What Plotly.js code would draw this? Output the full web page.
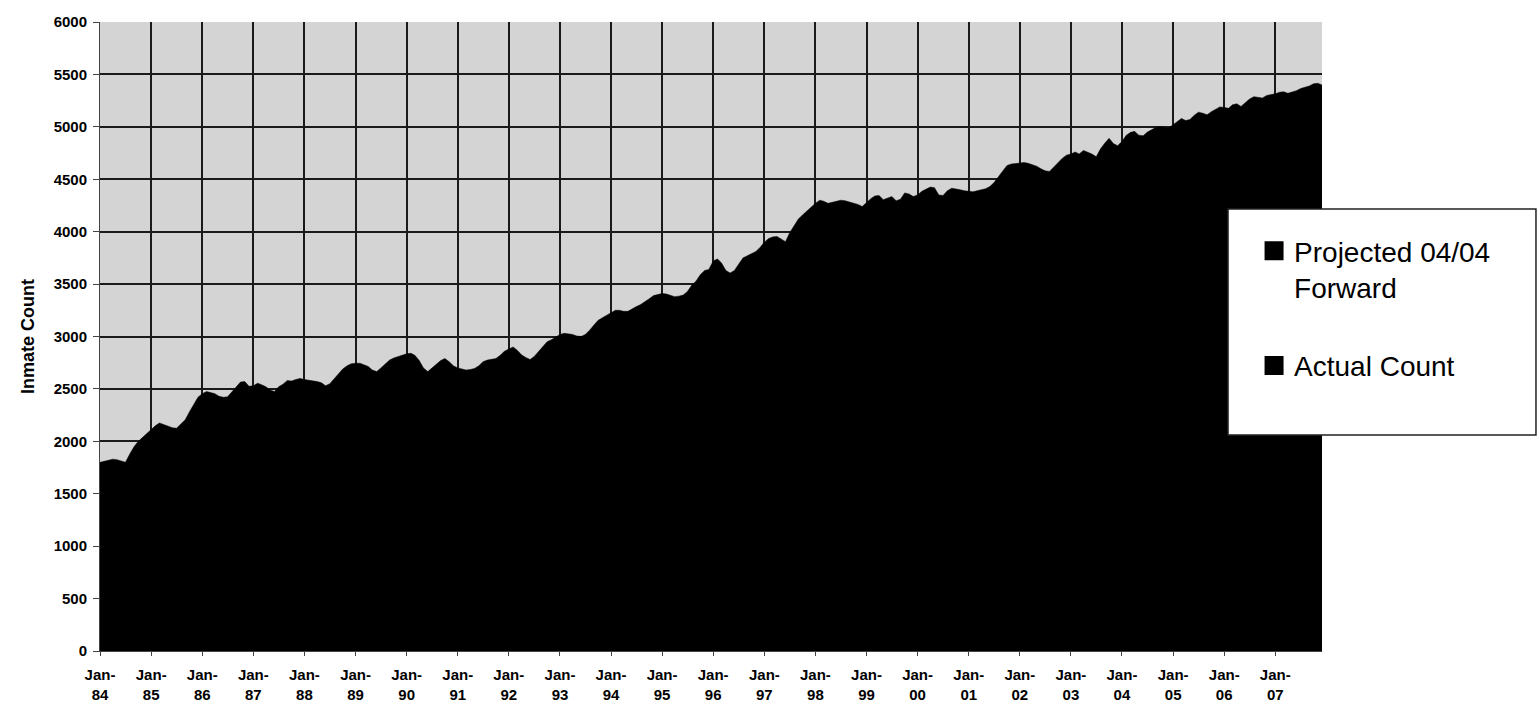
<!DOCTYPE html>
<html><head><meta charset="utf-8">
<script src="https://cdn.plot.ly/plotly-3.0.1.min.js"></script>
<style>html,body{margin:0;padding:0;background:#fff}#chart{width:1538px;height:716px}</style>
</head><body><div id="chart"></div>
<script>
const startYear = 1984;
const yearLabels = ['84','85','86','87','88','89','90','91','92','93','94','95','96','97','98','99','00','01','02','03','04','05','06','07'];
const yTicks = [0,500,1000,1500,2000,2500,3000,3500,4000,4500,5000,5500,6000];
const legendNames = ['Projected 04/04<br>Forward', 'Actual Count'];

// Monthly inmate counts, Jan-84 .. Mar-04
const actualCount = [
 1800,1810,1820,1830,1825,1810,1800,1880,1950,2000,2040,2080,
 2110,2150,2175,2160,2140,2130,2125,2170,2205,2280,2350,2420,
 2455,2475,2465,2455,2430,2420,2425,2470,2520,2565,2570,2525,
 2530,2555,2540,2520,2490,2475,2520,2545,2580,2575,2590,2600,
 2590,2585,2575,2570,2560,2530,2550,2600,2645,2690,2720,2740,
 2745,2745,2730,2715,2680,2665,2700,2740,2775,2795,2810,2825,
 2835,2840,2820,2770,2700,2665,2700,2740,2770,2790,2760,2720,
 2700,2690,2680,2685,2695,2720,2760,2775,2785,2790,2820,2860,
 2880,2900,2870,2825,2800,2780,2810,2860,2900,2950,2970,2995,
 3020,3030,3025,3020,3005,3000,3020,3060,3110,3155,3180,3205,
 3230,3250,3250,3240,3240,3265,3285,3305,3330,3360,3390,3400,
 3410,3405,3395,3380,3385,3395,3430,3490,3530,3590,3630,3640,
 3720,3740,3700,3630,3605,3630,3690,3750,3770,3790,3810,3850,
 3900,3935,3950,3955,3930,3905,3990,4060,4120,4160,4200,4240,
 4270,4300,4290,4270,4280,4295,4300,4295,4285,4275,4260,4240,
 4280,4315,4340,4345,4305,4320,4335,4295,4310,4370,4360,4335,
 4350,4385,4405,4425,4420,4350,4345,4390,4415,4410,4400,4390,
 4385,4380,4390,4398,4410,4430,4470,4525,4580,4630,4645,4652,
 4655,4660,4652,4640,4625,4600,4580,4575,4620,4655,4700,4730,
 4740,4760,4740,4775,4760,4740,4715,4790,4845,4890,4840,4820,
 4860,4920,4945
];
// Projected monthly counts, Apr-04 .. Dec-07
const projectedForward = [
 4955,4920,4915,4950,4975,4995,5000,4995,4990,
 5020,5050,5080,5060,5070,5110,5140,5130,5115,5145,5165,5190,
 5185,5177,5210,5220,5195,5235,5265,5288,5280,5275,5300,5305,
 5315,5330,5335,5320,5330,5345,5365,5375,5390,5410,5415,5400
];

function monthDate(i){
  const y = startYear + Math.floor(i/12);
  const m = (i % 12) + 1;
  return y + '-' + String(m).padStart(2,'0') + '-01';
}
const actualDates = actualCount.map((_, i) => monthDate(i));
const projDates = projectedForward.map((_, i) => monthDate(i + actualCount.length));
const lastIdx = actualCount.length - 1;

const tickVals = yearLabels.map((_, i) => (startYear + i) + '-01-01');
const tickText = yearLabels.map(y => 'Jan-<br>' + y);
const endDate = monthDate(actualCount.length + projectedForward.length - 1);

const traces = [
  // actual series, overlapping one month into the projection so no seam shows
  {x: actualDates.concat([projDates[0]]), y: actualCount.concat([projectedForward[0]]),
   type:'scatter', mode:'lines', fill:'tozeroy', fillcolor:'#000', line:{color:'#000', width:0.5},
   showlegend:false, hoverinfo:'skip'},
  {x: [actualDates[lastIdx]].concat(projDates), y: [actualCount[lastIdx]].concat(projectedForward),
   type:'scatter', mode:'lines', fill:'tozeroy', fillcolor:'#000', line:{color:'#000', width:0.5},
   showlegend:false, hoverinfo:'skip'},
  {x:[null], y:[null], type:'scatter', mode:'markers', name: legendNames[0], legendgroup:'a',
   marker:{symbol:'square', size:16, color:'#000', line:{color:'#000', width:3}}},
  {x:[null], y:[null], type:'scatter', mode:'markers', name: legendNames[1], legendgroup:'b',
   marker:{symbol:'square', size:16, color:'#000', line:{color:'#000', width:3}}}
];

const fam = 'Liberation Sans, Arial, sans-serif';
const axisFont = {family:fam, size:15, color:'#000', weight:'bold'};
const layout = {
  width:1538, height:716,
  margin:{l:100, r:216, t:22, b:65, pad:0},
  paper_bgcolor:'#ffffff', plot_bgcolor:'#d4d4d4',
  font:{family:fam, color:'#000'},
  xaxis:{type:'date', range:[actualDates[0], endDate], tickmode:'array', tickvals:tickVals, ticktext:tickText,
    tickangle:0, showgrid:true, gridcolor:'#1a1a1a', gridwidth:2, ticks:'outside', ticklen:4,
    tickcolor:'#444', showline:true, linecolor:'#444', linewidth:1, zeroline:false, tickfont:axisFont,
    ticklabelstandoff:6},
  yaxis:{range:[0,6000], tickmode:'array', tickvals:yTicks, ticks:'outside', ticklen:6, tickcolor:'#444',
    showgrid:true, gridcolor:'#1a1a1a', gridwidth:2, showline:true, linecolor:'#444', linewidth:1,
    zeroline:false, tickfont:axisFont, ticklabelstandoff:3,
    title:{text:'Inmate Count', font:{family:fam, size:18, weight:'bold', color:'#000'}, standoff:14}},
  legend:{x:0.9444, xanchor:'left', y:0.6757, yanchor:'top', bgcolor:'rgba(0,0,0,0)', borderwidth:0,
    font:{family:fam, size:28, color:'#000'},
    traceorder:'grouped', tracegroupgap:39, valign:'top'},
  shapes:[{type:'rect', xref:'paper', yref:'paper', x0:0.9231, x1:1.1751, y0:0.3434, y1:0.7027,
    fillcolor:'#ffffff', line:{color:'#222', width:1.5}, layer:'above'}],
  showlegend:true
};
Plotly.newPlot('chart', traces, layout, {staticPlot:true, displayModeBar:false});
</script></body></html>
